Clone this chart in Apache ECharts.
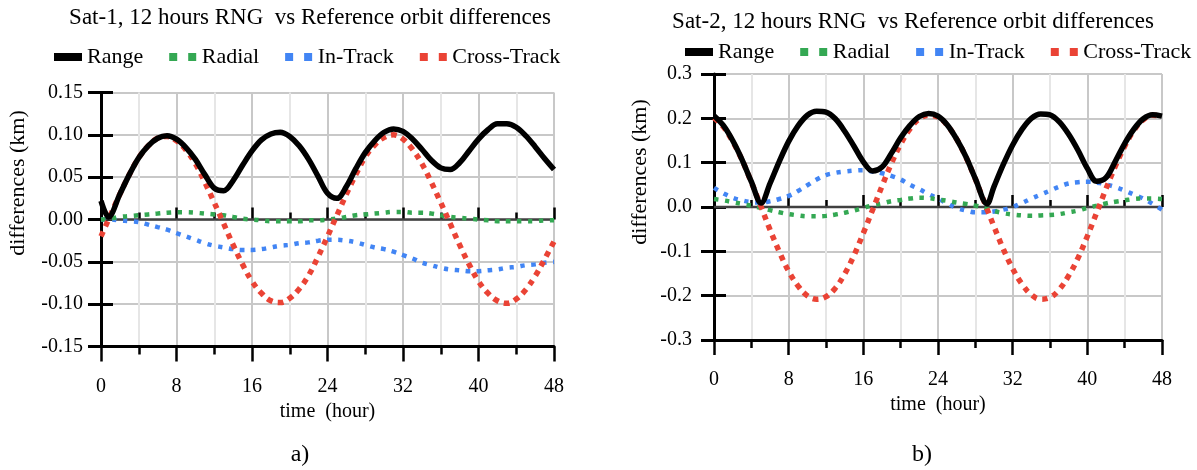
<!DOCTYPE html>
<html><head><meta charset="utf-8">
<script src="https://cdn.jsdelivr.net/npm/echarts@6/dist/echarts.min.js"></script>
<style>html,body{margin:0;padding:0;background:#fff}#c{width:1197px;height:470px}</style>
</head><body><div id="c"></div>
<script>
// ---------- data ----------
const hours = [0,1,2,3,4,5,6,7,8,9,10,11,12,13,14,15,16,17,18,19,20,21,22,23,24,25,26,27,28,29,30,31,32,33,34,35,36,37,38,39,40,41,42,43,44,45,46,47,48];
const xTickLabels = ['0','8','16','24','32','40','48'];
const seriesNames = ['Range','Radial','In-Track','Cross-Track'];
const titles = ['Sat-1, 12 hours RNG  vs Reference orbit differences','Sat-2, 12 hours RNG  vs Reference orbit differences'];
const captions = ['a)','b)'];
const zeroLineX = [0,48];
const zeroLineY = [0,0];

// Sat-1
const sat1RangeHours = [0,0.8,2,3,4,5,6,7,8,9,10,11,12,13,14,15,16,17,18,19,20,21,22,23,24,25,26,27,28,29,30,31,32,33,34,35,36,37,38,39,40,41,42,43,44,45,46,47,48];
const sat1Range = [0.022,0.003,0.030,0.053,0.073,0.087,0.096,0.099,0.095,0.085,0.071,0.053,0.037,0.034,0.046,0.064,0.081,0.094,0.101,0.103,0.098,0.087,0.071,0.051,0.031,0.025,0.039,0.060,0.079,0.093,0.103,0.107,0.104,0.095,0.083,0.070,0.061,0.059,0.067,0.081,0.095,0.106,0.113,0.113,0.109,0.099,0.086,0.072,0.059];
const sat1Radial = [0.000,0.001,0.003,0.004,0.005,0.006,0.007,0.008,0.0085,0.0085,0.008,0.007,0.006,0.005,0.003,0.001,0.000,-0.001,-0.002,-0.002,-0.002,-0.002,-0.001,-0.001,0.000,0.001,0.003,0.005,0.006,0.007,0.008,0.009,0.009,0.008,0.008,0.007,0.005,0.003,0.002,0.001,0.000,-0.001,-0.002,-0.002,-0.002,-0.002,-0.002,-0.001,-0.001];
const sat1InTrack = [0.000,0.000,-0.001,-0.002,-0.003,-0.006,-0.009,-0.012,-0.016,-0.020,-0.024,-0.028,-0.031,-0.033,-0.035,-0.036,-0.036,-0.035,-0.033,-0.031,-0.030,-0.028,-0.027,-0.025,-0.024,-0.024,-0.025,-0.027,-0.030,-0.033,-0.035,-0.038,-0.042,-0.046,-0.051,-0.054,-0.057,-0.059,-0.060,-0.061,-0.061,-0.060,-0.059,-0.057,-0.056,-0.054,-0.053,-0.051,-0.050];
const sat1CrossTrack = [-0.020,0.005,0.030,0.053,0.073,0.087,0.096,0.098,0.093,0.082,0.066,0.044,0.020,-0.005,-0.030,-0.053,-0.073,-0.087,-0.096,-0.098,-0.093,-0.082,-0.066,-0.044,-0.020,0.005,0.030,0.053,0.074,0.088,0.097,0.100,0.095,0.083,0.066,0.044,0.020,-0.005,-0.030,-0.053,-0.073,-0.087,-0.096,-0.099,-0.094,-0.083,-0.067,-0.047,-0.026];

// Sat-2
const sat2RangeHours = [0,1,2,3,4,5.05,6,7,8,9,10,11,12,13,14,15,16,17,18,19,20,21,22,23,24,25,26,27,28,29.25,30,31,32,33,34,35,36,37,38,39,40,41,42,43,44,45,46,47,48];
const sat2Range = [0.206,0.184,0.150,0.107,0.057,0.009,0.053,0.103,0.148,0.183,0.207,0.216,0.214,0.199,0.171,0.137,0.102,0.081,0.090,0.121,0.156,0.184,0.204,0.211,0.205,0.185,0.153,0.113,0.064,0.007,0.046,0.096,0.140,0.175,0.200,0.210,0.208,0.192,0.164,0.128,0.087,0.058,0.066,0.103,0.143,0.176,0.199,0.208,0.205];
const sat2Radial = [0.018,0.015,0.011,0.007,0.003,-0.002,-0.007,-0.012,-0.016,-0.019,-0.021,-0.021,-0.020,-0.017,-0.013,-0.008,-0.002,0.004,0.008,0.013,0.016,0.019,0.021,0.020,0.017,0.014,0.010,0.007,0.003,-0.002,-0.009,-0.014,-0.017,-0.019,-0.020,-0.019,-0.018,-0.016,-0.012,-0.008,-0.002,0.003,0.008,0.012,0.015,0.018,0.019,0.019,0.018];
const sat2InTrack = [0.043,0.031,0.021,0.015,0.011,0.010,0.013,0.018,0.025,0.036,0.049,0.062,0.072,0.077,0.080,0.082,0.083,0.080,0.076,0.070,0.062,0.050,0.040,0.029,0.019,0.008,-0.002,-0.008,-0.012,-0.012,-0.010,-0.006,0.000,0.009,0.019,0.028,0.037,0.046,0.053,0.056,0.057,0.055,0.051,0.045,0.037,0.028,0.019,0.007,-0.006];
const sat2CrossTrack = [0.201,0.181,0.148,0.106,0.056,0.003,-0.051,-0.101,-0.145,-0.178,-0.200,-0.208,-0.202,-0.183,-0.151,-0.109,-0.059,-0.006,0.047,0.098,0.142,0.176,0.199,0.207,0.203,0.184,0.153,0.112,0.063,0.009,-0.044,-0.095,-0.139,-0.174,-0.198,-0.208,-0.204,-0.186,-0.155,-0.115,-0.066,-0.013,0.041,0.092,0.137,0.173,0.197,0.207,0.204];

// ---------- build ----------
const FONT = 'Liberation Serif, serif';
const colors = {range:'#000000', radial:'#34A853', intrack:'#4285F4', cross:'#EA4335'};
const pairs = (xs, ys) => xs.map((x, i) => [x, ys[i]]);
const dotIcon = 'path://M0,0H8V8H0Z M19,0H27V8H19Z';

const grids = [
  {left:101, right:643, top:92.5, bottom:123.5},
  {left:714, right:35, top:74, bottom:130}
];
const yCfg = [
  {min:-0.15, max:0.15, interval:0.05, dec:2},
  {min:-0.3, max:0.3, interval:0.1, dec:1}
];

const xAxes = [], yAxes = [], series = [];
grids.forEach((g, gi) => {
  const tickStyle = {color:'#000', width:2.5};
  xAxes.push({
    gridIndex:gi, type:'value', min:0, max:48, interval:8,
    axisLine:{show:true, onZero:false, lineStyle:{color:'#000', width:3}},
    axisTick:{show:true, length:15, lineStyle:tickStyle},
    minorTick:{show:true, splitNumber:2, length:8, lineStyle:tickStyle},
    splitLine:{show:true, lineStyle:{color:'#c8c8c8', width:2}},
    minorSplitLine:{show:true, lineStyle:{color:'#e6e6e6', width:2}},
    axisLabel:{margin:30, fontFamily:FONT, fontSize:20, color:'#000',
      formatter:(v) => xTickLabels[Math.round(v/8)]},
    name:'time  (hour)', nameLocation:'middle', nameGap:53,
    nameTextStyle:{fontFamily:FONT, fontSize:20, color:'#000'}
  });
  xAxes.push({
    gridIndex:gi, type:'value', min:0, max:48, interval:8, position:'bottom',
    axisLine:{show:false}, axisLabel:{show:false}, splitLine:{show:false},
    axisTick:{show:true, inside:true, length:12, lineStyle:tickStyle},
    minorTick:{show:true, splitNumber:2, length:7, lineStyle:tickStyle}
  });
  const yc = yCfg[gi];
  yAxes.push({
    gridIndex:gi, type:'value', min:yc.min, max:yc.max, interval:yc.interval,
    axisLine:{show:true, onZero:false, lineStyle:{color:'#000', width:3}},
    axisTick:{show:true, length:13, lineStyle:{color:'#000', width:3}},
    splitLine:{show:true, lineStyle:{color:'#c8c8c8', width:2}},
    axisLabel:{margin:gi === 0 ? 18 : 22, fontFamily:FONT, fontSize:20, color:'#000',
      formatter:(v) => (Math.abs(v) < 1e-9 ? 0 : v).toFixed(yc.dec)}
  });
  yAxes.push({
    gridIndex:gi, type:'value', min:yc.min, max:yc.max, interval:yc.interval, position:'left',
    axisLine:{show:false}, axisLabel:{show:false}, splitLine:{show:false},
    axisTick:{show:true, inside:true, length:12, lineStyle:{color:'#000', width:3}}
  });
});

function addSeries(gi, rangeHours, range, radial, intrack, cross) {
  const xi = gi * 2, yi = gi * 2;
  series.push({type:'line', name:'zero', xAxisIndex:xi, yAxisIndex:yi, data:pairs(zeroLineX, zeroLineY),
    symbol:'none', silent:true, z:1, lineStyle:{color:'#404040', width:2.5}});
  series.push({type:'line', name:'In-Track', xAxisIndex:xi, yAxisIndex:yi, data:pairs(hours, intrack),
    symbol:'none', smooth:0.4, z:3, color:colors.intrack,
    lineStyle:{color:colors.intrack, width:4.5, type:[4.5,6.5], cap:'butt'}});
  series.push({type:'line', name:'Radial', xAxisIndex:xi, yAxisIndex:yi, data:pairs(hours, radial),
    symbol:'none', smooth:0.4, z:4, color:colors.radial,
    lineStyle:{color:colors.radial, width:4.5, type:[4.5,6.5], cap:'butt'}});
  series.push({type:'line', name:'Cross-Track', xAxisIndex:xi, yAxisIndex:yi, data:pairs(hours, cross),
    symbol:'none', smooth:0.4, z:5, color:colors.cross,
    lineStyle:{color:colors.cross, width:5.5, type:[5.5,5.5], cap:'butt'}});
  series.push({type:'line', name:'Range', xAxisIndex:xi, yAxisIndex:yi, data:pairs(rangeHours, range),
    symbol:'none', smooth:0.35, z:6, color:colors.range,
    lineStyle:{color:colors.range, width:5.5}});
}
addSeries(0, sat1RangeHours, sat1Range, sat1Radial, sat1InTrack, sat1CrossTrack);
addSeries(1, sat2RangeHours, sat2Range, sat2Radial, sat2InTrack, sat2CrossTrack);

const legendData = [
  {name:seriesNames[0], icon:'rect'},
  {name:seriesNames[1], icon:dotIcon},
  {name:seriesNames[2], icon:dotIcon},
  {name:seriesNames[3], icon:dotIcon}
];
const legendBase = {orient:'horizontal', itemWidth:28, itemHeight:8, itemGap:26, padding:0,
  selectedMode:false, itemStyle:{borderWidth:0},
  textStyle:{fontFamily:FONT, fontSize:22, color:'#000'}, data:legendData};

const txt = (text, x, y, size, rot) => ({type:'text', x, y, rotation:rot || 0, silent:true,
  style:{text, fontFamily:FONT, fontSize:size, fill:'#000', align:'center', verticalAlign:'middle'}});

const chart = echarts.init(document.getElementById('c'), null, {renderer:'canvas'});
chart.setOption({
  animation:false,
  backgroundColor:'#fff',
  textStyle:{fontFamily:FONT},
  grid:grids,
  xAxis:xAxes,
  yAxis:yAxes,
  legend:[
    Object.assign({}, legendBase, {left:54, top:46}),
    Object.assign({}, legendBase, {left:685, top:41})
  ],
  graphic:[
    txt(titles[0], 310, 18, 23),
    txt(titles[1], 913, 22, 23),
    txt('differences (km)', 18, 183, 22, Math.PI/2),
    txt('differences (km)', 640, 172, 22, Math.PI/2),
    txt(captions[0], 300, 455, 24),
    txt(captions[1], 922, 455, 24)
  ],
  series:series
});
</script>
</body></html>
